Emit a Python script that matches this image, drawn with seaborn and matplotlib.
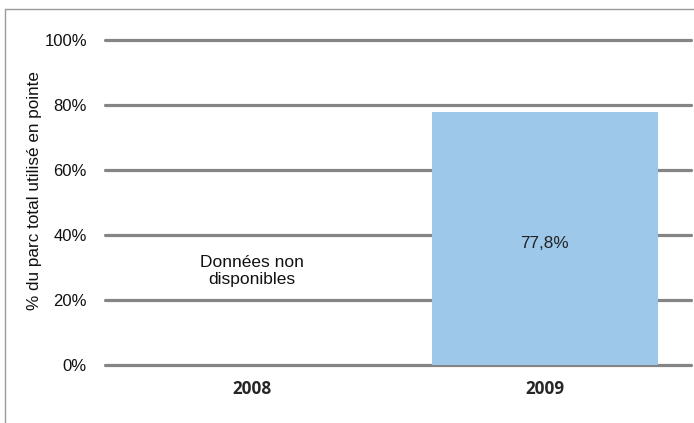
import matplotlib
matplotlib.use("Agg")
import matplotlib.pyplot as plt
import seaborn as sns
import pandas as pd
from matplotlib.lines import Line2D

years = ["2008", "2009"]
values = [0.0, 77.8]
bar_labels = ["", "77,8%"]
missing_text = "Données non\ndisponibles"
ylabel = "% du parc total utilisé en pointe"
yticks = [0, 20, 40, 60, 80, 100]

sns.set_theme(style="white")
plt.rcParams["font.family"] = ["Liberation Sans", "DejaVu Sans"]

df = pd.DataFrame({"year": years, "value": values})

fig = plt.figure(figsize=(6.94, 4.23), dpi=100)
ax = fig.add_axes([0.1513, 0.1371, 0.845, 0.7683])

sns.barplot(data=df, x="year", y="value", color="#9DC8EA", width=0.77,
            saturation=1, ax=ax, linewidth=0)
for p in ax.patches:
    p.set_zorder(5)

ax.set_ylim(0, 100)
ax.set_xlim(-0.5, 1.5)
ax.set_yticks(yticks)
ax.set_yticklabels([f"{t}%" for t in yticks], fontsize=12, color="#111111")
for t in yticks:
    ax.axhline(t, color="#858585", lw=2.3, zorder=2, clip_on=False)
for s in ax.spines.values():
    s.set_visible(False)
ax.tick_params(axis="y", length=0, pad=13)
ax.tick_params(axis="x", length=0, pad=11)
for lab in ax.get_xticklabels():
    lab.set_fontfamily(["Open Sans", "DejaVu Sans"])
    lab.set_fontweight("bold")
    lab.set_fontsize(12.3)
ax.set_xlabel("")
ax.set_ylabel(ylabel, fontsize=12.3, color="#111111")
ax.yaxis.set_label_coords(-63 / 586.5, (365 - 190) / 325, transform=ax.transAxes)

# labels
ax.text(0, 29, missing_text, ha="center", va="center", fontsize=12.5,
        color="#111111", linespacing=1.15, zorder=6)
for i, (v, lbl) in enumerate(zip(values, bar_labels)):
    if lbl:
        ax.text(i, 37.5, lbl, ha="center", va="center", fontsize=12.3,
                color="#222222", zorder=6)

# outer frame (left and top borders)
W, H = 694, 423
fig.add_artist(Line2D([5 / W, 5 / W], [0, 1 - 9 / H], transform=fig.transFigure,
                      color="#9a9a9a", lw=1.0))
fig.add_artist(Line2D([5 / W, 1], [1 - 9 / H, 1 - 9 / H], transform=fig.transFigure,
                      color="#9a9a9a", lw=1.0))

fig.savefig("out.png", dpi=100)
